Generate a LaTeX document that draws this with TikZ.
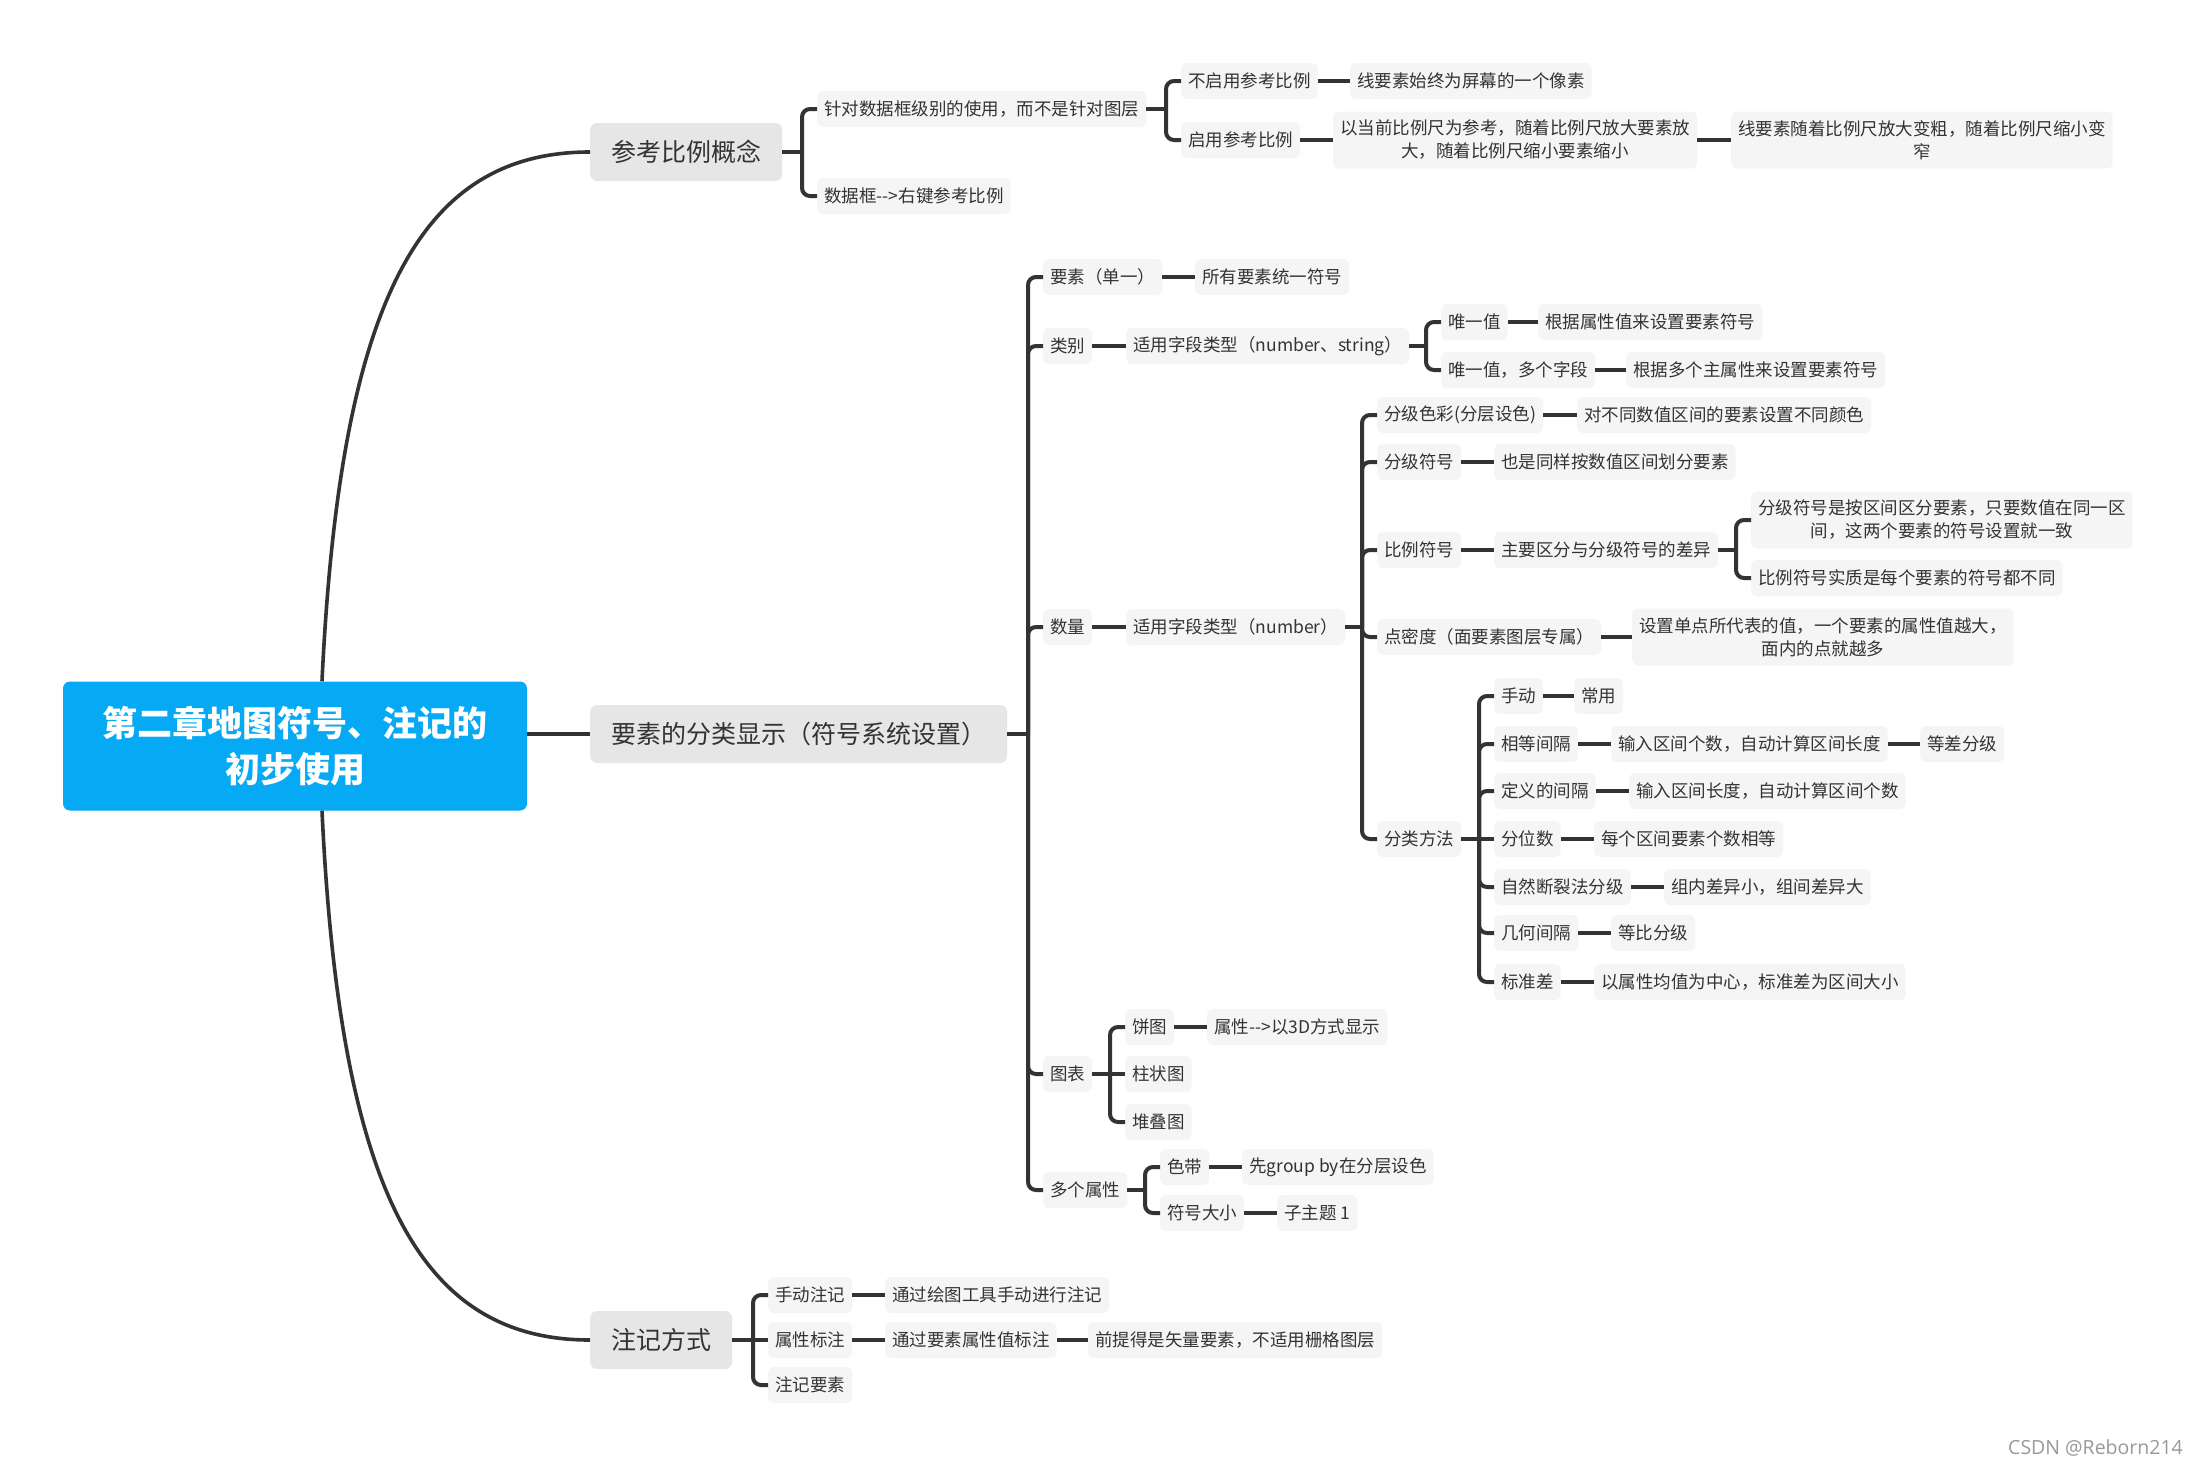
\documentclass[tikz,border=0pt]{standalone}
\usepackage{fontspec}
\setmainfont{Noto Sans CJK SC}
\newfontfamily\wmfont{Open Sans}
\definecolor{linec}{HTML}{333333}
\definecolor{txt}{HTML}{333333}
\definecolor{subf}{HTML}{F5F5F5}
\definecolor{topf}{HTML}{E6E6E6}
\definecolor{rootf}{HTML}{06A9F3}
\newcommand\lnk[2]{\draw[conn] (#1.east) -- (#1.east -| #2.west);}
\newcommand\brk[2]{\draw[conn] (#1.east) -- ([xshift=-15pt]#2.west |- #1.east);
  \draw[conn,rounded corners=8pt] ([xshift=-15pt]#2.west |- #1.east) |- (#2.west);}
\begin{document}
\begin{tikzpicture}[x=1pt,y=-1pt,
  conn/.style={draw=linec, line width=4pt},
  maincurve/.style={draw=linec, line width=3.6pt},
  sub/.style={fill=subf, rounded corners=6pt, inner xsep=7pt, inner ysep=0pt, minimum height=36pt, anchor=west, text=txt, font=\fontsize{17.5pt}{23pt}\selectfont},
  subm/.style={sub, align=center, minimum height=57pt},
  topic/.style={fill=topf, rounded corners=7pt, inner xsep=21pt, inner ysep=0pt, minimum height=58pt, anchor=west, text=txt, font=\fontsize{25pt}{30pt}\selectfont},
  rootn/.style={fill=rootf, rounded corners=7pt, minimum width=464pt, minimum height=129pt, text width=420pt, align=center, text=white, font=\fontsize{35pt}{46pt}\selectfont\bfseries}]
\useasboundingbox[fill=white] (0,0) rectangle (2196,1467);

% root and main topics
\node[rootn] (root) at (295,746) {第二章地图符号、注记的\\初步使用};
\node[topic] (t1) at (590,152) {参考比例概念};
\node[topic] (t2) at (590,734) {要素的分类显示（符号系统设置）};
\node[topic] (t3) at (590,1340) {注记方式};

\draw[maincurve] ([xshift=27pt]root.north) .. controls (340,300) and (420,152) .. (t1.west);
\draw[maincurve] ([xshift=27pt]root.south) .. controls (340,1192) and (420,1340) .. (t3.west);
\draw[maincurve] (root.east |- t2.west) -- (t2.west);

% topic 1
\node[sub] (A1) at (817,109) {针对数据框级别的使用，而不是针对图层};
\node[sub] (A2) at (817,196) {数据框-{}-{}>右键参考比例};
\node[sub] (A11) at (1181,81) {不启用参考比例};
\node[sub] (A111) at (1350,81) {线要素始终为屏幕的一个像素};
\node[sub] (A12) at (1181,140) {启用参考比例};
\node[subm] (A121) at (1333,140) {以当前比例尺为参考，随着比例尺放大要素放\\大，随着比例尺缩小要素缩小};
\node[subm] (A1211) at (1731,140) {线要素随着比例尺放大变粗，随着比例尺缩小变\\窄};
\brk{t1}{A1}\brk{t1}{A2}
\brk{A1}{A11}\brk{A1}{A12}
\lnk{A11}{A111}\lnk{A12}{A121}\lnk{A121}{A1211}

% topic 2
\node[sub] (B1) at (1043,277) {要素（单一）};
\node[sub] (B11) at (1195,277) {所有要素统一符号};
\node[sub] (B2) at (1043,346) {类别};
\node[sub] (B21) at (1126,346) {适用字段类型（number、string）};
\node[sub] (B211) at (1441,322) {唯一值};
\node[sub] (B2111) at (1538,322) {根据属性值来设置要素符号};
\node[sub] (B212) at (1441,370) {唯一值，多个字段};
\node[sub] (B2121) at (1626,370) {根据多个主属性来设置要素符号};
\node[sub] (B3) at (1043,627) {数量};
\node[sub] (B31) at (1126,627) {适用字段类型（number）};
\node[sub] (C1) at (1377,415) {分级色彩(分层设色)};
\node[sub] (C11) at (1577,415) {对不同数值区间的要素设置不同颜色};
\node[sub] (C2) at (1377,462) {分级符号};
\node[sub] (C21) at (1494,462) {也是同样按数值区间划分要素};
\node[sub] (C3) at (1377,550) {比例符号};
\node[sub] (C31) at (1494,550) {主要区分与分级符号的差异};
\node[subm] (C311) at (1751,520) {分级符号是按区间区分要素，只要数值在同一区\\间，这两个要素的符号设置就一致};
\node[sub] (C312) at (1751,578) {比例符号实质是每个要素的符号都不同};
\node[sub] (C4) at (1377,637) {点密度（面要素图层专属）};
\node[subm] (C41) at (1632,637) {设置单点所代表的值，一个要素的属性值越大，\\面内的点就越多};
\node[sub] (C5) at (1377,839) {分类方法};
\node[sub] (D1) at (1494,696) {手动};
\node[sub] (D11) at (1574,696) {常用};
\node[sub] (D2) at (1494,744) {相等间隔};
\node[sub] (D21) at (1611,744) {输入区间个数，自动计算区间长度};
\node[sub] (D211) at (1920,744) {等差分级};
\node[sub] (D3) at (1494,791) {定义的间隔};
\node[sub] (D31) at (1629,791) {输入区间长度，自动计算区间个数};
\node[sub] (D4) at (1494,839) {分位数};
\node[sub] (D41) at (1594,839) {每个区间要素个数相等};
\node[sub] (D5) at (1494,887) {自然断裂法分级};
\node[sub] (D51) at (1664,887) {组内差异小，组间差异大};
\node[sub] (D6) at (1494,933) {几何间隔};
\node[sub] (D61) at (1611,933) {等比分级};
\node[sub] (D7) at (1494,982) {标准差};
\node[sub] (D71) at (1594,982) {以属性均值为中心，标准差为区间大小};
\node[sub] (B4) at (1043,1074) {图表};
\node[sub] (E1) at (1125,1027) {饼图};
\node[sub] (E11) at (1207,1027) {属性-{}-{}>以3D方式显示};
\node[sub] (E2) at (1125,1074) {柱状图};
\node[sub] (E3) at (1125,1122) {堆叠图};
\node[sub] (B5) at (1043,1190) {多个属性};
\node[sub] (F1) at (1160,1167) {色带};
\node[sub] (F11) at (1242,1167) {先group by在分层设色};
\node[sub] (F2) at (1160,1213) {符号大小};
\node[sub] (F21) at (1277,1213) {子主题 1};

\brk{t2}{B1}\brk{t2}{B2}\brk{t2}{B3}\brk{t2}{B4}\brk{t2}{B5}
\lnk{B1}{B11}\lnk{B2}{B21}\lnk{B3}{B31}
\brk{B21}{B211}\brk{B21}{B212}
\lnk{B211}{B2111}\lnk{B212}{B2121}
\brk{B31}{C1}\brk{B31}{C2}\brk{B31}{C3}\brk{B31}{C4}\brk{B31}{C5}
\lnk{C1}{C11}\lnk{C2}{C21}\lnk{C3}{C31}\lnk{C4}{C41}
\brk{C31}{C311}\brk{C31}{C312}
\brk{C5}{D1}\brk{C5}{D2}\brk{C5}{D3}\lnk{C5}{D4}\brk{C5}{D5}\brk{C5}{D6}\brk{C5}{D7}
\lnk{D1}{D11}\lnk{D2}{D21}\lnk{D21}{D211}\lnk{D3}{D31}\lnk{D4}{D41}
\lnk{D5}{D51}\lnk{D6}{D61}\lnk{D7}{D71}
\brk{B4}{E1}\lnk{B4}{E2}\brk{B4}{E3}
\lnk{E1}{E11}
\brk{B5}{F1}\brk{B5}{F2}
\lnk{F1}{F11}\lnk{F2}{F21}

% topic 3
\node[sub] (G1) at (768,1295) {手动注记};
\node[sub] (G11) at (885,1295) {通过绘图工具手动进行注记};
\node[sub] (G2) at (768,1340) {属性标注};
\node[sub] (G21) at (885,1340) {通过要素属性值标注};
\node[sub] (G211) at (1088,1340) {前提得是矢量要素，不适用栅格图层};
\node[sub] (G3) at (768,1385) {注记要素};
\brk{t3}{G1}\lnk{t3}{G2}\brk{t3}{G3}
\lnk{G1}{G11}\lnk{G2}{G21}\lnk{G21}{G211}

% watermark
\node[anchor=east, text=black!40, font=\wmfont\fontsize{19.5pt}{22pt}\selectfont, inner sep=0pt] (wm) at (2183,1448) {CSDN @Reborn214};
\end{tikzpicture}
\end{document}
